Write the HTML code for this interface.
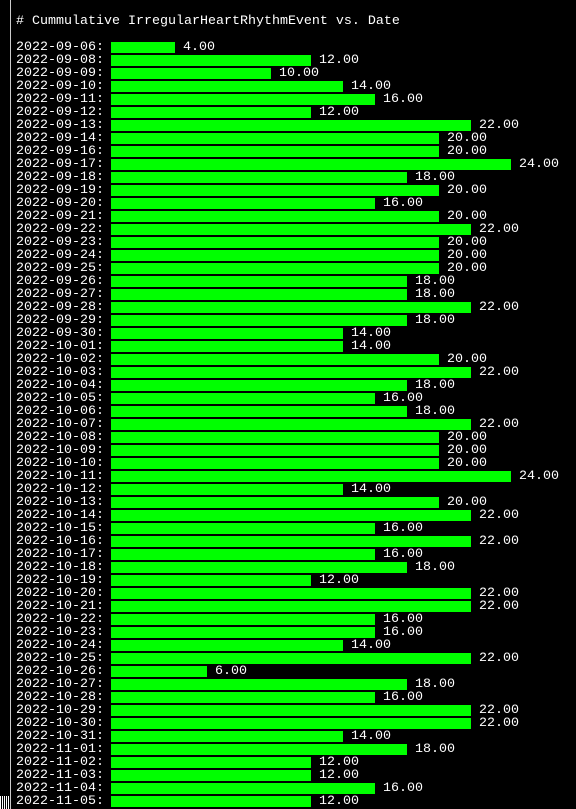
<!DOCTYPE html>
<html><head><meta charset="utf-8"><style>
html,body{margin:0;padding:0;background:#000;}
body{width:576px;height:809px;overflow:hidden;position:relative;font-family:"Liberation Mono",monospace;font-size:13.33px;color:#fff;}
#border{position:absolute;left:10px;top:0;width:1px;height:809px;background:#ccc;}
#title{position:absolute;left:16px;top:14px;line-height:16px;white-space:pre;}
.lab,.val{position:absolute;line-height:13px;white-space:pre;}
.bar{position:absolute;height:11px;background:#00ff00;}
#stripes{position:absolute;left:0;top:796px;width:10px;height:13px;background:repeating-linear-gradient(90deg,#fff 0 1px,#000 1px 2px);}
</style></head><body>
<div id="border"></div>
<div id="stripes"></div>
<div id="title"># Cummulative IrregularHeartRhythmEvent vs. Date</div>
<div id="chart"></div>
<script>
const dates=["2022-09-06","2022-09-08","2022-09-09","2022-09-10","2022-09-11","2022-09-12","2022-09-13","2022-09-14","2022-09-16","2022-09-17","2022-09-18","2022-09-19","2022-09-20","2022-09-21","2022-09-22","2022-09-23","2022-09-24","2022-09-25","2022-09-26","2022-09-27","2022-09-28","2022-09-29","2022-09-30","2022-10-01","2022-10-02","2022-10-03","2022-10-04","2022-10-05","2022-10-06","2022-10-07","2022-10-08","2022-10-09","2022-10-10","2022-10-11","2022-10-12","2022-10-13","2022-10-14","2022-10-15","2022-10-16","2022-10-17","2022-10-18","2022-10-19","2022-10-20","2022-10-21","2022-10-22","2022-10-23","2022-10-24","2022-10-25","2022-10-26","2022-10-27","2022-10-28","2022-10-29","2022-10-30","2022-10-31","2022-11-01","2022-11-02","2022-11-03","2022-11-04","2022-11-05"];
const values=[4,12,10,14,16,12,22,20,20,24,18,20,16,20,22,20,20,20,18,18,22,18,14,14,20,22,18,16,18,22,20,20,20,24,14,20,22,16,22,16,18,12,22,22,16,16,14,22,6,18,16,22,22,14,18,12,12,16,12];
const chart=document.getElementById('chart');
const maxV=Math.max(...values);
const CH=8, MAXW=50, X0=16, Y0=41, ROW=13;
function barChars(v){return Math.floor(v*MAXW/maxV);}
dates.forEach((d,i)=>{
  const y=Y0+i*ROW;
  const l=document.createElement('div');
  l.className='lab';
  
  
  l.style.left=X0+'px';l.style.top=y+'px';
  l.textContent=d+':';
  chart.appendChild(l);
  const n=barChars(values[i]);
  const b=document.createElement('div');
  b.className='bar';
  
  
  b.style.left=(X0+12*CH-1)+'px';b.style.top=(y+1)+'px';b.style.width=(n*CH)+'px';
  chart.appendChild(b);
  const t=document.createElement('div');
  t.className='val';
  
  
  t.style.left=(X0+(13+n)*CH-1)+'px';t.style.top=y+'px';
  t.textContent=values[i].toFixed(2);
  chart.appendChild(t);
});
</script>
</body></html>
